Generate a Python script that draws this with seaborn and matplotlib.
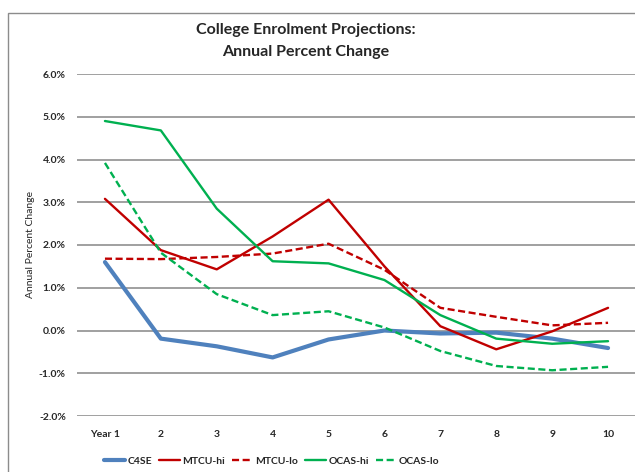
import pandas as pd
import matplotlib
matplotlib.use("Agg")
import matplotlib.pyplot as plt
from matplotlib.patches import Rectangle
from matplotlib.ticker import FuncFormatter
import seaborn as sns

# Dados
years = ["Year 1", "2", "3", "4", "5", "6", "7", "8", "9", "10"]
c4se = [1.60, -0.19, -0.37, -0.63, -0.21, 0.00, -0.07, -0.05, -0.19, -0.41]
mtcu_hi = [3.08, 1.88, 1.43, 2.20, 3.06, 1.50, 0.10, -0.44, -0.02, 0.53]
mtcu_lo = [1.68, 1.67, 1.72, 1.80, 2.03, 1.42, 0.53, 0.32, 0.12, 0.18]
ocas_hi = [4.90, 4.68, 2.85, 1.62, 1.57, 1.18, 0.36, -0.19, -0.31, -0.25]
ocas_lo = [3.92, 1.82, 0.85, 0.36, 0.45, 0.07, -0.48, -0.83, -0.93, -0.85]

series = [
    ("C4SE", c4se, "#4F81BD", "-", 3.0),
    ("MTCU-hi", mtcu_hi, "#C00000", "-", 1.7),
    ("MTCU-lo", mtcu_lo, "#C00000", (0, (3, 1.5)), 1.7),
    ("OCAS-hi", ocas_hi, "#00B050", "-", 1.7),
    ("OCAS-lo", ocas_lo, "#00B050", (0, (3, 1.5)), 1.7),
]

sns.set_style("white")
plt.rcParams["font.family"] = ["Lato", "DejaVu Sans"]

fig = plt.figure(figsize=(6.35, 4.72), dpi=100)
ax = fig.add_axes([77 / 635, 1 - 416 / 472, 559 / 635, 342 / 472])

for name, vals, color, ls, lw in series:
    df = pd.DataFrame({"Year": years, "Change": vals})
    sns.lineplot(data=df, x="Year", y="Change", ax=ax, color=color,
                 linestyle=ls, linewidth=lw, label=name, sort=False)

ax.set_xlim(-0.5, 9.5)
ax.set_ylim(-2, 6)
ax.set_yticks(range(-2, 7))
ax.yaxis.set_major_formatter(FuncFormatter(lambda v, p: f"{v:.1f}%"))
ax.grid(axis="y", color="#868686", linewidth=1.1)
ax.grid(axis="x", visible=False)
ax.set_axisbelow(True)
for s in ax.spines.values():
    s.set_visible(False)
ax.tick_params(axis="both", length=0, labelsize=7.5)
ax.tick_params(axis="y", pad=8)
ax.tick_params(axis="x", pad=10)
for t in ax.get_xticklabels() + ax.get_yticklabels():
    t.set_fontweight("bold")
ax.set_xlabel("")
ax.set_ylabel("Annual Percent Change", fontsize=7.5, labelpad=3)

fig.text(0.5 - 12 / 635, 1 - 30 / 472, "College Enrolment Projections:",
         ha="center", va="center", fontsize=11.5, fontweight="bold")
fig.text(0.5 - 12 / 635, 1 - 52 / 472, "Annual Percent Change",
         ha="center", va="center", fontsize=11.5, fontweight="bold")

leg = ax.legend(loc="center", bbox_to_anchor=(272 / 635, 1 - 461 / 472),
                bbox_transform=fig.transFigure, ncol=5, frameon=False,
                fontsize=7.5, handlelength=2.0, columnspacing=0.7, handletextpad=0.2)
for t in leg.get_texts():
    t.set_fontweight("bold")

# borda do gráfico
fig.patches.append(Rectangle((8 / 635, -0.1), 1.2, 1.1 - 13 / 472,
                             transform=fig.transFigure, fill=False,
                             edgecolor="#8c8c8c", linewidth=1.0))

plt.savefig("out.png", dpi=100)
